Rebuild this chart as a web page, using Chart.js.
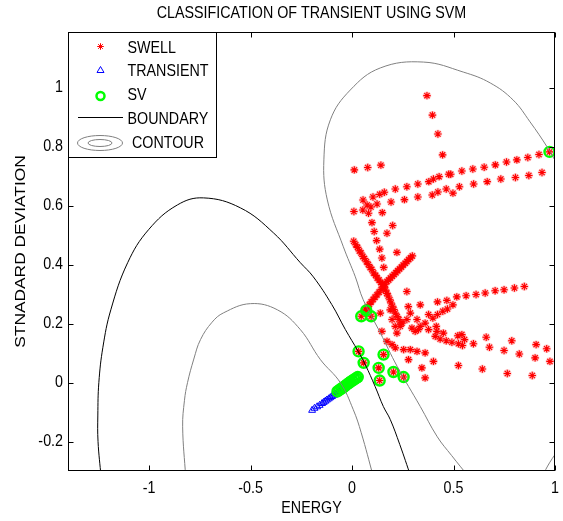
<!DOCTYPE html>
<html>
<head>
<meta charset="utf-8">
<script src="https://cdn.jsdelivr.net/npm/chart.js@4/dist/chart.umd.min.js"></script>
<style>
  html, body { margin: 0; padding: 0; background: #fff; }
  #wrap { width: 563px; height: 521px; }
</style>
</head>
<body>
<div id="wrap"><canvas id="c" width="563" height="521"></canvas></div>
<script>
// Axis ranges and ticks
const xRange = [-1.4, 1.0];
const yRange = [-0.3, 1.19];
const xTicks = [-1, -0.5, 0, 0.5, 1];
const xTickLabels = ['-1', '-0.5', '0', '0.5', '1'];
const yTicks = [-0.2, 0, 0.2, 0.4, 0.6, 0.8, 1];
const yTickLabels = ['-0.2', '0', '0.2', '0.4', '0.6', '0.8', '1'];

// SWELL samples [energy, standard deviation]
const swellUpper = [
  [0.369,0.974],[0.396,0.908],[0.423,0.844],[0.446,0.773],
  [0.011,0.722],[0.077,0.730],[0.142,0.738],
  [0.054,0.620],[0.103,0.630],[0.136,0.639],[0.159,0.646],[0.213,0.657],[0.270,0.665],
  [0.324,0.674],[0.378,0.682],[0.401,0.691],[0.429,0.699],[0.476,0.707],[0.486,0.707],
  [0.541,0.718],[0.595,0.725],[0.651,0.731],[0.706,0.739],[0.761,0.749],[0.812,0.756],
  [0.866,0.764],[0.921,0.774],[0.973,0.783],
  [0.192,0.613],[0.258,0.621],[0.324,0.630],[0.395,0.637],[0.423,0.647],[0.464,0.657],
  [0.497,0.643],[0.529,0.665],[0.599,0.674],[0.666,0.682],[0.733,0.691],[0.805,0.696],
  [0.871,0.703],[0.936,0.713],
  [0.074,0.603],[0.093,0.596],[0.123,0.606],[0.009,0.581],[0.053,0.586],[0.081,0.575],
  [0.149,0.577],[0.098,0.543],[0.109,0.513],[0.121,0.482],[0.136,0.453],[0.147,0.423],
  [0.156,0.391],[0.200,0.533],[0.172,0.507],[0.221,0.442],[0.270,0.309]
];
const swellCross = [
  [0.008,0.480],[0.018,0.468],[0.027,0.459],[0.036,0.447],[0.044,0.440],[0.053,0.428],
  [0.061,0.421],[0.071,0.410],[0.080,0.401],[0.089,0.391],[0.097,0.384],[0.106,0.372],
  [0.116,0.364],[0.124,0.355],[0.133,0.348],[0.141,0.340],[0.150,0.333],[0.158,0.324],
  [0.165,0.314],[0.171,0.303],[0.178,0.294],[0.186,0.281],[0.192,0.270],[0.199,0.259],
  [0.206,0.248],[0.213,0.236],[0.222,0.224],[0.231,0.214],[0.241,0.203],
  [0.297,0.430],[0.288,0.423],[0.279,0.418],[0.270,0.411],[0.262,0.405],[0.252,0.399],
  [0.243,0.392],[0.234,0.386],[0.225,0.380],[0.216,0.373],[0.207,0.367],[0.198,0.361],
  [0.189,0.355],[0.180,0.348],[0.172,0.343],
  [0.163,0.334],[0.153,0.325],[0.143,0.316],[0.133,0.307],[0.123,0.298],[0.113,0.290],
  [0.104,0.282],[0.094,0.274],[0.085,0.265],[0.076,0.257],[0.067,0.249]
];
const swellLower = [
  [0.139,0.236],[0.188,0.247],[0.277,0.258],[0.336,0.264],[0.421,0.274],[0.467,0.279],
  [0.516,0.291],[0.562,0.295],[0.611,0.299],[0.656,0.304],[0.705,0.312],[0.749,0.315],
  [0.800,0.321],[0.849,0.326],
  [0.497,0.264],[0.470,0.250],[0.447,0.242],[0.421,0.231],[0.398,0.219],[0.377,0.231],
  [0.360,0.202],[0.336,0.191],[0.311,0.174],[0.295,0.185],[0.270,0.214],[0.246,0.202],
  [0.287,0.236],
  [0.197,0.214],[0.213,0.191],[0.221,0.168],[0.147,0.174],[0.237,0.191],[0.320,0.214],
  [0.327,0.180],[0.377,0.180],[0.415,0.191],[0.418,0.174],[0.450,0.168],[0.410,0.157],
  [0.434,0.148],[0.464,0.142],[0.492,0.137],[0.521,0.159],[0.541,0.163],[0.524,0.132],
  [0.544,0.126],[0.554,0.146],[0.598,0.132],[0.661,0.154],[0.677,0.120],[0.749,0.109],
  [0.787,0.142],[0.824,0.097],[0.907,0.129],[0.902,0.084],[0.959,0.115],[0.975,0.072],
  [0.172,0.140],[0.197,0.129],[0.213,0.118],[0.254,0.112],[0.287,0.112],[0.320,0.106],
  [0.360,0.101],[0.278,0.078],[0.344,0.050],[0.360,0.016],[0.401,0.072],[0.524,0.058],
  [0.642,0.046],[0.765,0.031],[0.888,0.024],
  [0.032,0.106],[0.057,0.067],[0.155,0.095],[0.131,0.050],[0.136,0.007],[0.204,0.036],
  [0.254,0.019],[0.045,0.225],[0.070,0.245],[0.094,0.225]
];

// TRANSIENT samples
const transient = [
  [-0.197,-0.094],[-0.185,-0.087],[-0.172,-0.082],[-0.160,-0.077],[-0.148,-0.071],
  [-0.140,-0.067],[-0.132,-0.063],[-0.124,-0.059],[-0.115,-0.055],[-0.107,-0.051],
  [-0.099,-0.047],[-0.090,-0.043],[-0.082,-0.039],[-0.074,-0.034],[-0.065,-0.030],
  [-0.055,-0.025],[-0.045,-0.020],[-0.035,-0.015],[-0.025,-0.010],[-0.015,-0.005],
  [-0.005,0.000],[0.005,0.005],[0.015,0.010],[0.026,0.016]
];

// Support vectors
const supportVectors = [
  [0.973,0.783],[0.045,0.225],[0.070,0.245],[0.094,0.225],
  [0.032,0.106],[0.057,0.067],[0.155,0.095],[0.131,0.050],[0.136,0.007],
  [0.204,0.036],[0.254,0.019],
  [-0.072,-0.030],[-0.062,-0.025],[-0.052,-0.020],[-0.043,-0.016],[-0.034,-0.011],
  [-0.025,-0.006],[-0.016,-0.002],[-0.007,0.003],[0.002,0.007],[0.011,0.011],
  [0.020,0.015],[0.028,0.019]
];

// Decision boundary and contour traces
const boundary = [
  [-1.237,-0.32],[-1.252,-0.2],[-1.253,-0.11],[-1.248,0.0],[-1.228,0.12],[-1.189,0.247],
  [-1.106,0.407],[-1.003,0.519],[-0.861,0.603],[-0.732,0.627],[-0.55,0.593],[-0.387,0.508],
  [-0.255,0.407],[-0.191,0.359],[-0.10,0.265],[-0.033,0.180],[0.031,0.105],[0.065,0.061],
  [0.114,-0.014],[0.154,-0.081],[0.188,-0.125],[0.235,-0.21],[0.29,-0.32]
];
const contourInner = [
  [-0.82,-0.32],[-0.835,-0.15],[-0.826,-0.06],[-0.811,0.0],[-0.78,0.08],[-0.747,0.146],
  [-0.69,0.205],[-0.633,0.237],[-0.501,0.268],[-0.368,0.247],[-0.255,0.18],[-0.156,0.078],
  [-0.058,0.0],[0.006,-0.092],[0.045,-0.17],[0.105,-0.32]
];
const contourOuter = [
  [1.02,0.73],[0.961,0.80],[0.877,0.885],[0.794,0.959],[0.681,1.017],[0.548,1.054],
  [0.351,1.088],[0.139,1.068],[-0.009,0.993],[-0.107,0.892],[-0.139,0.756],[-0.122,0.62],
  [-0.043,0.461],[0.016,0.359],[0.055,0.281],[0.139,0.169],[0.223,0.054],[0.336,-0.081],
  [0.42,-0.184],[0.49,-0.247],[0.575,-0.32]
];
const contourCorner = [[0.935,-0.32],[0.975,-0.27],[1.02,-0.225]];

const FONT = '"Liberation Sans", Arial, Helvetica, sans-serif';
const TEXT_PX = 14.3;     // horizontal text size
const TEXT_STRETCH = 1.13; // glyphs are slightly taller than wide

const pts = arr => arr.map(([x, y]) => ({ x, y }));
const swellAll = swellUpper.concat(swellCross, swellLower);

const RED = '#ff0000', BLUE = '#0000ff', GREEN = '#00ff00', GRAY = '#808080';

function curve(data, color, order) {
  return {
    data: pts(data), showLine: true, borderColor: color, borderWidth: 1,
    pointRadius: 0, tension: 0.4, fill: false, order
  };
}

// text drawn with a small vertical stretch
function label(ctx, text, x, y, align, size, stretch, rotate) {
  ctx.save();
  ctx.translate(x, y);
  if (rotate) ctx.rotate(-Math.PI / 2);
  ctx.scale(rotate ? stretch : 1, rotate ? 1 : stretch);
  ctx.font = size + 'px ' + FONT;
  ctx.fillStyle = '#000';
  ctx.textAlign = align;
  ctx.textBaseline = 'middle';
  ctx.fillText(text, 0, 0);
  ctx.restore();
}

// Frame, inward ticks, tick labels, titles and legend
const decorations = {
  id: 'decorations',
  afterDatasetsDraw(chart) {
    const { ctx, chartArea: a, scales } = chart;
    const L = Math.round(a.left) + 0.5, R = Math.round(a.right) - 0.5;
    const T = Math.round(a.top) + 0.5, B = Math.round(a.bottom) - 0.5;
    ctx.save();
    ctx.strokeStyle = '#000';
    ctx.lineWidth = 1;
    ctx.beginPath();
    xTicks.forEach((v, i) => {
      const p = Math.round(scales.x.getPixelForValue(v)) + 0.5;
      ctx.moveTo(p, B); ctx.lineTo(p, B - 5);
      ctx.moveTo(p, T); ctx.lineTo(p, T + 5);
    });
    yTicks.forEach(v => {
      const p = Math.round(scales.y.getPixelForValue(v)) + 0.5;
      ctx.moveTo(L, p); ctx.lineTo(L + 5, p);
      ctx.moveTo(R, p); ctx.lineTo(R - 5, p);
    });
    ctx.stroke();
    ctx.strokeRect(L, T, R - L, B - T);

    xTicks.forEach((v, i) => {
      label(ctx, xTickLabels[i], scales.x.getPixelForValue(v), 488.5, 'center', TEXT_PX, TEXT_STRETCH);
    });
    yTicks.forEach((v, i) => {
      label(ctx, yTickLabels[i], 63, scales.y.getPixelForValue(v), 'right', TEXT_PX, TEXT_STRETCH);
    });
    label(ctx, 'ENERGY', (a.left + a.right) / 2, 508.5, 'center', TEXT_PX, TEXT_STRETCH);
    label(ctx, 'STNADARD DEVIATION', 21, (a.top + a.bottom) / 2, 'center', 15.5, 1.12, true);
    label(ctx, 'CLASSIFICATION OF TRANSIENT USING SVM', (a.left + a.right) / 2, 13.5,
          'center', TEXT_PX, TEXT_STRETCH);

    // legend box
    const lx = L, ly = T, lw = 148, lh = 125;
    ctx.fillStyle = '#fff';
    ctx.fillRect(lx, ly, lw, lh);
    ctx.strokeRect(lx, ly, lw, lh);

    const mx = 100.5;
    // swell asterisk
    ctx.strokeStyle = RED; ctx.lineWidth = 1;
    const sr = 3.3, sy = 46.5;
    ctx.beginPath();
    ctx.moveTo(mx - sr, sy); ctx.lineTo(mx + sr, sy);
    ctx.moveTo(mx, sy - sr); ctx.lineTo(mx, sy + sr);
    const d = sr * Math.SQRT1_2;
    ctx.moveTo(mx - d, sy - d); ctx.lineTo(mx + d, sy + d);
    ctx.moveTo(mx - d, sy + d); ctx.lineTo(mx + d, sy - d);
    ctx.stroke();
    // transient triangle
    ctx.strokeStyle = BLUE;
    ctx.beginPath();
    ctx.moveTo(mx, 66.5); ctx.lineTo(mx + 3.5, 72.5); ctx.lineTo(mx - 3.5, 72.5); ctx.closePath();
    ctx.stroke();
    // support vector circle
    ctx.strokeStyle = GREEN; ctx.lineWidth = 2.5;
    ctx.beginPath(); ctx.arc(mx, 96, 4, 0, Math.PI * 2); ctx.stroke();
    // boundary line
    ctx.strokeStyle = '#000'; ctx.lineWidth = 1;
    ctx.beginPath(); ctx.moveTo(78, 117.5); ctx.lineTo(123, 117.5); ctx.stroke();
    // contour icon
    ctx.strokeStyle = GRAY;
    ctx.beginPath(); ctx.ellipse(100, 143, 22.5, 7.5, 0, 0, Math.PI * 2); ctx.stroke();
    ctx.beginPath(); ctx.ellipse(100, 143, 12, 3.5, 0, 0, Math.PI * 2); ctx.stroke();

    label(ctx, 'SWELL', 127.5, 48.5, 'left', TEXT_PX, TEXT_STRETCH);
    label(ctx, 'TRANSIENT', 127.5, 72, 'left', TEXT_PX, TEXT_STRETCH);
    label(ctx, 'SV', 127.5, 96, 'left', TEXT_PX, TEXT_STRETCH);
    label(ctx, 'BOUNDARY', 127.5, 120, 'left', TEXT_PX, TEXT_STRETCH);
    label(ctx, 'CONTOUR', 132, 144, 'left', TEXT_PX, TEXT_STRETCH);
    ctx.restore();
  }
};

new Chart(document.getElementById('c'), {
  type: 'scatter',
  data: {
    datasets: [
      curve(boundary, '#000', 1),
      curve(contourInner, GRAY, 1),
      curve(contourOuter, GRAY, 1),
      curve(contourCorner, GRAY, 1),
      { data: pts(supportVectors), pointStyle: 'circle', pointRadius: 5,
        borderColor: GREEN, borderWidth: 2.4, backgroundColor: 'rgba(0,0,0,0)', order: 2 },
      { data: pts(transient), pointStyle: 'triangle', pointRadius: 4,
        borderColor: BLUE, borderWidth: 1, backgroundColor: 'rgba(0,0,0,0)', order: 3 },
      { data: pts(swellAll), pointStyle: 'star', pointRadius: 3.7,
        borderColor: RED, borderWidth: 1.1, order: 4 },
      { data: pts(swellAll), pointStyle: 'star', pointRadius: 4.2,
        borderColor: 'rgba(255,70,70,0.33)', borderWidth: 2.6, order: 5 }
    ]
  },
  options: {
    responsive: false,
    animation: false,
    events: [],
    layout: { padding: { left: 0, right: 8, top: 32, bottom: 0 } },
    plugins: { legend: { display: false }, tooltip: { enabled: false }, title: { display: false } },
    scales: {
      x: {
        type: 'linear', min: xRange[0], max: xRange[1],
        afterBuildTicks: s => { s.ticks = xTicks.map(v => ({ value: v })); },
        afterFit: s => { s.height = 50; },
        grid: { display: false, drawTicks: false },
        border: { display: false },
        ticks: { display: false }
      },
      y: {
        type: 'linear', min: yRange[0], max: yRange[1],
        afterBuildTicks: s => { s.ticks = yTicks.map(v => ({ value: v })); },
        afterFit: s => { s.width = 68; },
        grid: { display: false, drawTicks: false },
        border: { display: false },
        ticks: { display: false }
      }
    }
  },
  plugins: [decorations]
});
</script>
</body>
</html>
